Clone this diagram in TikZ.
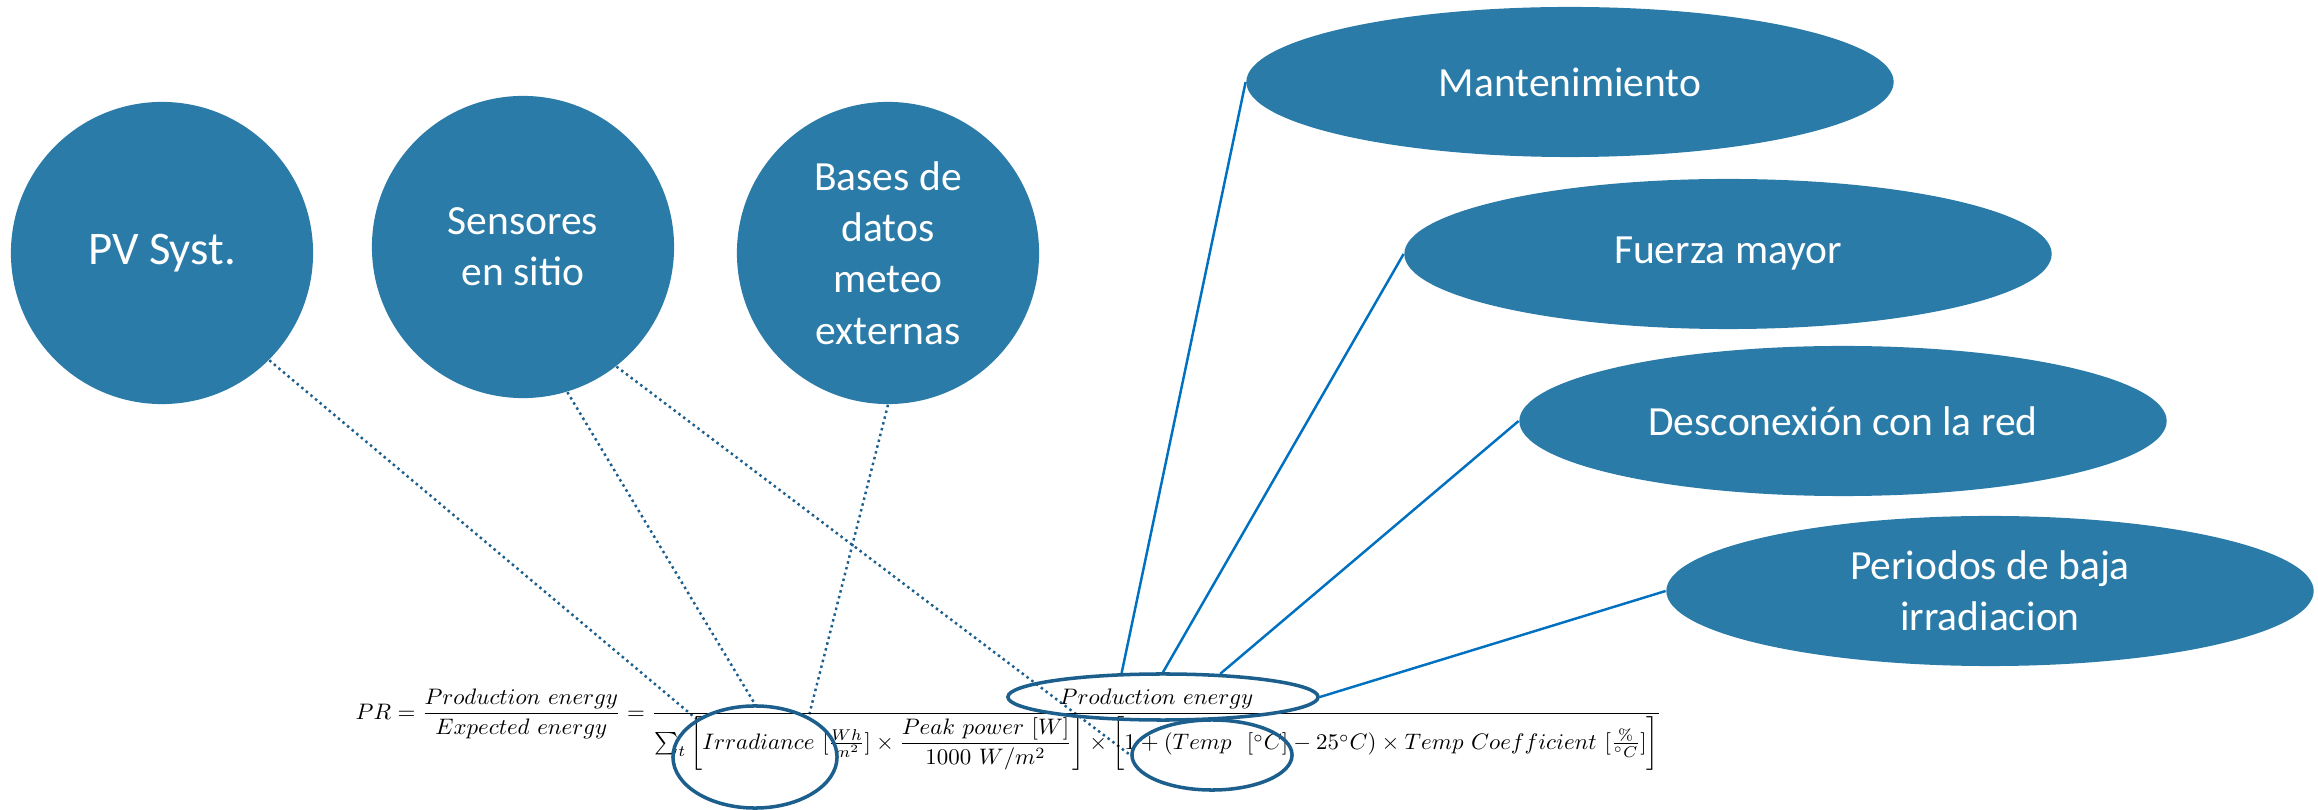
\documentclass[tikz,border=0pt]{standalone}
\usepackage{amsmath}
\usepackage{graphicx}
\usepackage{fontspec}
\newfontfamily\labelfont{Carlito}
\usepackage{tikz}
\usetikzlibrary{shapes.geometric}
\pgfdeclarelayer{background}
\pgfsetlayers{background,main}

\definecolor{discblue}{RGB}{42,123,168}
\definecolor{linkblue}{RGB}{0,112,192}
\definecolor{ringblue}{RGB}{28,94,140}

\tikzset{
  bubble/.style={circle, fill=discblue, minimum size=3.02cm, inner sep=0pt, text=white, align=center,
    font=\labelfont\fontsize{11.8}{14.6}\selectfont},
  oval/.style={ellipse, fill=discblue, minimum width=6.47cm, minimum height=1.5cm, inner sep=0pt, text=white, align=center,
    font=\labelfont\fontsize{11.8}{14.6}\selectfont},
  ring/.style={ellipse, draw=ringblue, line width=1pt, inner sep=0pt},
  dotlink/.style={draw=ringblue, line width=0.7pt, densely dotted},
  solidlink/.style={draw=linkblue, line width=0.7pt}
}

\begin{document}
\begin{tikzpicture}[x=0.01cm, y=-0.01cm]
		\useasboundingbox (0,0) rectangle (2318,810);
		% sources
		\node [bubble, font=\labelfont\fontsize{13.3}{16}\selectfont] (pv) at (162,253) {PV Syst.};
		\node [bubble] (sen) at (523,247) {Sensores\\en sitio};
		\node [bubble] (bas) at (888,253) {Bases de\\datos\\meteo\\externas};
		% losses
		\node [oval] (man) at (1570,82) {Mantenimiento};
		\node [oval] (fue) at (1728,254) {Fuerza mayor};
		\node [oval] (des) at (1843,421) {Desconexi\'on con la red};
		\node [oval] (per) at (1990,591) {Periodos de baja\\irradiacion};
		% formula
		\node [anchor=north west, inner sep=0pt] (pr) at (355,688) {\resizebox*{13.05cm}{0.82cm}{$\displaystyle
			PR=\frac{Production\ energy}{Expected\ energy}=\frac{Production\ energy}{\sum_t\left[Irradiance\ [\tfrac{Wh}{m^2}]\times\dfrac{Peak\ power\ [W]}{1000\ W/m^2}\right]\times\left[\vphantom{\dfrac{P}{1}}1+(Temp\ \ [^\circ C]-25^\circ C)\times Temp\ Coefficient\ [\tfrac{\%}{^\circ C}]\right]}$}};
		\node [ring, minimum width=1.64cm, minimum height=1.02cm] (irr) at (755,757) {};
		\node [ring, minimum width=1.6cm, minimum height=0.7cm] (temp) at (1212,755) {};
		\node [ring, minimum width=3.1cm, minimum height=0.46cm] (prod) at (1163,697) {};
		\begin{pgfonlayer}{background}
		\draw [dotlink] (pv.-45) -- (irr.147);
		\draw [dotlink] (sen.-73) -- (irr.north);
		\draw [dotlink] (sen.-52) -- (temp.west);
		\draw [dotlink] (bas.south) -- (irr.37);
		\draw [solidlink] (man.west) -- (prod.150);
		\draw [solidlink] (fue.west) -- (prod.north);
		\draw [solidlink] (des.west) -- (prod.22);
		\draw [solidlink] (per.west) -- (prod.east);
		\end{pgfonlayer}
\end{tikzpicture}
\end{document}
